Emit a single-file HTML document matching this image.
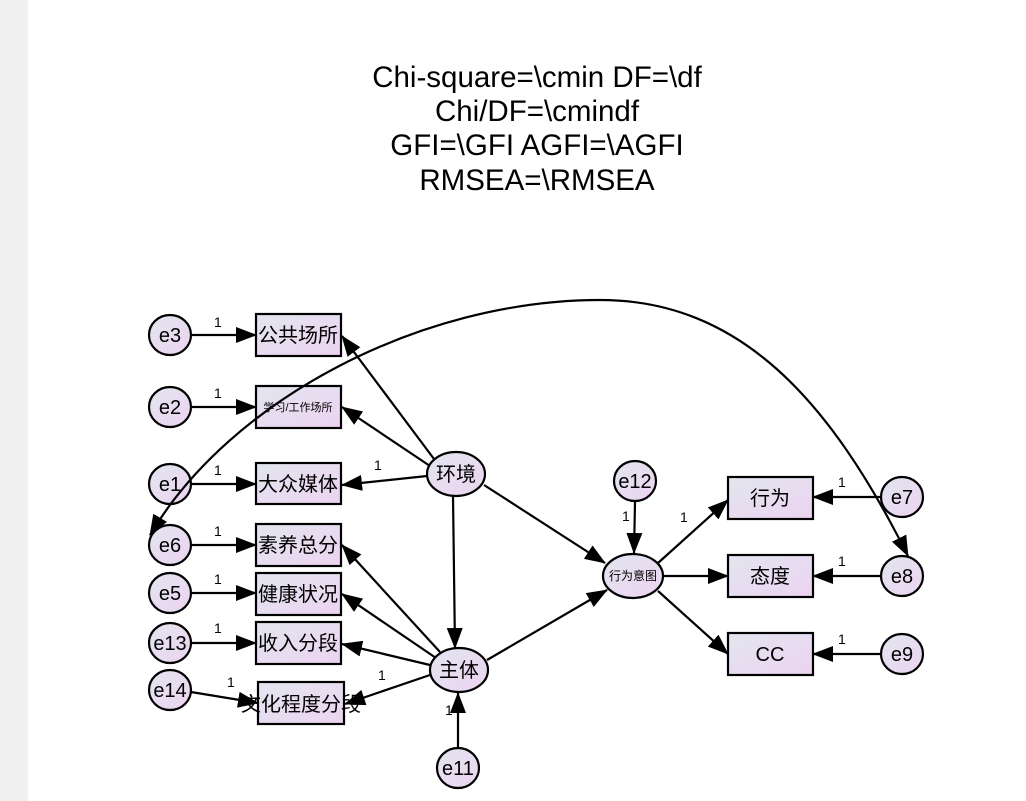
<!DOCTYPE html>
<html><head><meta charset="utf-8"><style>
body{margin:0;width:1026px;height:801px;overflow:hidden;background:#fff}
svg{display:block}
text{font-family:"Liberation Sans","Noto Sans CJK SC",sans-serif;fill:#000}
</style></head><body>
<svg width="1026" height="801" viewBox="0 0 1026 801" xmlns="http://www.w3.org/2000/svg">
<defs>
<linearGradient id="g" x1="0" y1="0" x2="1" y2="1">
<stop offset="0" stop-color="#e2e6ef"/><stop offset="1" stop-color="#ecd3f0"/></linearGradient>
<marker id="a" markerWidth="21" markerHeight="16" refX="20" refY="8" orient="auto" markerUnits="userSpaceOnUse">
<path d="M0,0 L21,8 L0,16 Z" fill="#000"/></marker>
<marker id="b" markerWidth="21" markerHeight="16" refX="20" refY="8" orient="auto-start-reverse" markerUnits="userSpaceOnUse">
<path d="M0,0 L21,8 L0,16 Z" fill="#000"/></marker>
</defs>
<rect x="0" y="0" width="28" height="801" fill="#f0f0f0"/>
<g font-size="29.5" text-anchor="middle">
<text x="537" y="87">Chi-square=\cmin DF=\df</text>
<text x="537" y="121">Chi/DF=\cmindf</text>
<text x="537" y="155">GFI=\GFI AGFI=\AGFI</text>
<text x="537" y="190">RMSEA=\RMSEA</text>
</g>
<g stroke="#000" stroke-width="2.2" fill="none" marker-end="url(#a)">
<line x1="191" y1="335" x2="256" y2="335"/>
<line x1="191" y1="407" x2="256" y2="407"/>
<line x1="191" y1="484" x2="256" y2="484"/>
<line x1="191" y1="545" x2="256" y2="545"/>
<line x1="191" y1="593" x2="256" y2="593"/>
<line x1="191" y1="643" x2="256" y2="643"/>
<line x1="191" y1="692" x2="258" y2="703"/>
<line x1="434" y1="459" x2="342" y2="336"/>
<line x1="430" y1="466" x2="342" y2="407"/>
<line x1="427" y1="476" x2="342" y2="485"/>
<line x1="453" y1="496" x2="455" y2="648"/>
<line x1="440" y1="652" x2="342" y2="545"/>
<line x1="436" y1="658" x2="342" y2="594"/>
<line x1="430" y1="665" x2="342" y2="644"/>
<line x1="430" y1="675" x2="345" y2="704"/>
<line x1="458" y1="747" x2="458" y2="693"/>
<line x1="484" y1="485" x2="605" y2="563"/>
<line x1="487" y1="660" x2="607" y2="590"/>
<line x1="635" y1="502" x2="634" y2="553"/>
<line x1="658" y1="563" x2="728" y2="500"/>
<line x1="663" y1="576" x2="728" y2="576"/>
<line x1="658" y1="591" x2="728" y2="654"/>
<line x1="881" y1="497" x2="813" y2="497"/>
<line x1="881" y1="576" x2="813" y2="576"/>
<line x1="881" y1="654" x2="813" y2="654"/>
</g>
<g stroke="#000" stroke-width="2.2" fill="url(#g)">
<rect x="256" y="314" width="85" height="42"/>
<rect x="256" y="386" width="85" height="42"/>
<rect x="256" y="463" width="85" height="41"/>
<rect x="256" y="524" width="85" height="42"/>
<rect x="256" y="573" width="85" height="42"/>
<rect x="256" y="622" width="85" height="42"/>
<rect x="258" y="682" width="86" height="42"/>
<rect x="728" y="477" width="85" height="42"/>
<rect x="728" y="555" width="85" height="42"/>
<rect x="728" y="633" width="85" height="42"/>
<ellipse cx="170" cy="335" rx="21" ry="20"/>
<ellipse cx="170" cy="407" rx="21" ry="20"/>
<ellipse cx="170" cy="484" rx="21" ry="20"/>
<ellipse cx="170" cy="545" rx="21" ry="20"/>
<ellipse cx="170" cy="593" rx="21" ry="20"/>
<ellipse cx="170" cy="643" rx="21" ry="20"/>
<ellipse cx="170" cy="690" rx="21" ry="20"/>
<ellipse cx="458" cy="768" rx="21" ry="20"/>
<ellipse cx="635" cy="481" rx="21" ry="20"/>
<ellipse cx="902" cy="497" rx="21" ry="20"/>
<ellipse cx="902" cy="576" rx="21" ry="20"/>
<ellipse cx="902" cy="654" rx="21" ry="20"/>
<ellipse cx="456" cy="474" rx="29" ry="22"/>
<ellipse cx="459" cy="670" rx="29" ry="22"/>
<ellipse cx="633" cy="576" rx="30" ry="22"/>
</g>
<g font-size="20" text-anchor="middle">
<text x="170" y="342">e3</text><text x="170" y="414">e2</text><text x="170" y="491">e1</text>
<text x="170" y="552">e6</text><text x="170" y="600">e5</text><text x="170" y="650">e13</text>
<text x="170" y="697">e14</text><text x="458" y="775">e11</text><text x="635" y="488">e12</text>
<text x="902" y="504">e7</text><text x="902" y="583">e8</text><text x="902" y="661">e9</text>
<text x="298" y="342">公共场所</text><text x="298" y="491">大众媒体</text>
<text x="298" y="552">素养总分</text><text x="298" y="601">健康状况</text><text x="298" y="650">收入分段</text>
<text x="301" y="711">文化程度分段</text>
<text x="770" y="505">行为</text><text x="770" y="583">态度</text><text x="770" y="661">CC</text>
<text x="456" y="481">环境</text><text x="459" y="677">主体</text>
</g>
<text x="298" y="411" font-size="11" text-anchor="middle">学习/工作场所</text>
<text x="633" y="580" font-size="12" text-anchor="middle">行为意图</text>
<path d="M150 535 C 230 400, 420 300, 600 300 C 740 300, 830 400, 908 556" stroke="#000" stroke-width="2.2" fill="none" marker-start="url(#b)" marker-end="url(#a)"/>
<g font-size="14">
<text x="214" y="327">1</text><text x="214" y="398">1</text><text x="214" y="475">1</text>
<text x="214" y="536">1</text><text x="214" y="584">1</text><text x="214" y="633">1</text>
<text x="227" y="687">1</text><text x="374" y="470">1</text><text x="378" y="680">1</text>
<text x="445" y="715">1</text><text x="622" y="521">1</text><text x="680" y="522">1</text>
<text x="838" y="487">1</text><text x="838" y="566">1</text><text x="838" y="644">1</text>
</g>
</svg>
</body></html>
